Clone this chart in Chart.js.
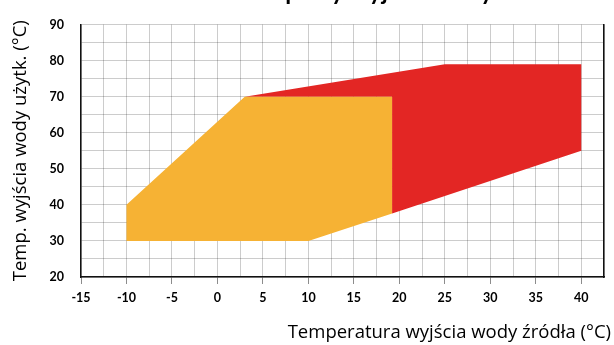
<!DOCTYPE html>
<html>
<head>
<meta charset="utf-8">
<script src="https://cdn.jsdelivr.net/npm/chart.js@4"></script>
<style>
  html, body { margin: 0; padding: 0; background: #fff; }
  #wrap { width: 614px; height: 345px; position: relative; }
</style>
</head>
<body>
<div id="wrap"><canvas id="chart"></canvas></div>
<script>
// polygon corners (x = source water temp, y = DHW outlet temp)
const orangeX = [-10, -10, 3, 19.2, 19.2, 10];
const orangeY = [30, 40, 70, 70, 37.6, 30];
const redX = [3, 25, 40, 40, 19.2, 19.2];
const redY = [70, 79, 79, 55, 37.6, 70];

const xMin = -15, xMax = 42.5, xStep = 2.5;
const yMin = 20, yMax = 90, yStep = 5;

const titleText = "Zakres pracy wyjścia wody";
const xTitle = "Temperatura wyjścia wody źródła (°C)";
const yTitle = "Temp. wyjścia wody użytk. (°C)";

const toPoints = (xs, ys) => xs.map((x, i) => ({ x, y: ys[i] }));

const gridColor = "rgba(0,0,0,0.2)";
const tickFont = { family: "Lato", size: 12.5, weight: "bold" };
const titleFont = { family: "Open Sans", size: 18.5 };

// chart title is cut off at the top of the picture; x title sits bottom right
const extraText = {
    id: "extraText",
    afterDraw(chart) {
        const ctx = chart.ctx;
        const a = chart.chartArea;
        ctx.save();
        ctx.fillStyle = "#000";
        ctx.font = "bold 24px Lato";
        ctx.textAlign = "center";
        ctx.textBaseline = "alphabetic";
        ctx.fillText(titleText, (a.left + a.right) / 2 + 8, 0);
        ctx.font = "18.5px 'Open Sans'";
        ctx.textAlign = "right";
        ctx.textBaseline = "middle";
        ctx.fillText(xTitle, 611, 333);
        ctx.restore();
    }
};

new Chart(document.getElementById("chart").getContext("2d"), {
    type: "scatter",
    data: {
        datasets: [
            {
                label: "orange",
                data: toPoints(orangeX, orangeY),
                showLine: true,
                fill: "shape",
                backgroundColor: "#F6B234",
                borderWidth: 0,
                pointRadius: 0,
                order: 0
            },
            {
                label: "red",
                data: toPoints(redX, redY),
                showLine: true,
                fill: "shape",
                backgroundColor: "#E32624",
                borderWidth: 0,
                pointRadius: 0,
                order: 1
            }
        ]
    },
    options: {
        responsive: true,
        maintainAspectRatio: false,
        animation: false,
        layout: { padding: { top: 19, right: 10, left: 0, bottom: 0 } },
        plugins: {
            legend: { display: false },
            tooltip: { enabled: false }
        },
        scales: {
            x: {
                type: "linear",
                min: xMin,
                max: xMax,
                afterFit: s => { s.height = 68; },
                ticks: {
                    stepSize: xStep,
                    autoSkip: false,
                    maxRotation: 0,
                    padding: 6,
                    color: "#000",
                    font: tickFont,
                    callback: v => (v % 5 === 0 ? String(v) : "")
                },
                grid: {
                    color: gridColor,
                    tickLength: 7,
                    tickColor: c => (c.tick && c.tick.value % 5 === 0 ? "rgba(0,0,0,0.45)" : "rgba(0,0,0,0)")
                },
                border: { color: "#111", width: 1.5 }
            },
            y: {
                type: "linear",
                min: yMin,
                max: yMax,
                afterFit: s => { s.width = 81; },
                ticks: {
                    stepSize: yStep,
                    autoSkip: false,
                    padding: 17,
                    color: "#000",
                    font: tickFont,
                    callback: v => (v % 10 === 0 ? String(v) : "")
                },
                grid: { color: gridColor, drawTicks: false },
                border: { color: "#111", width: 1.5 },
                title: {
                    display: true,
                    text: yTitle,
                    color: "#000",
                    font: titleFont,
                    padding: { top: 10, bottom: 0 }
                }
            },
            y2: {
                type: "linear",
                position: "right",
                min: yMin,
                max: yMax,
                afterFit: s => { s.width = 0; },
                ticks: { display: false },
                grid: { display: false, drawTicks: false },
                border: { color: "#111", width: 1.5 }
            }
        }
    },
    plugins: [extraText]
});
</script>
</body>
</html>
